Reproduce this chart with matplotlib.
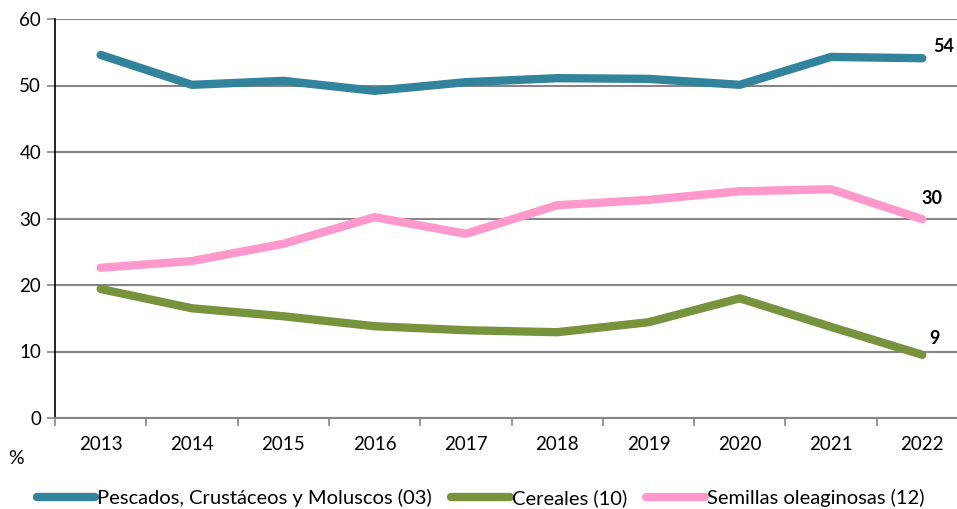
import matplotlib
matplotlib.use('Agg')
import matplotlib.pyplot as plt
import numpy as np

plt.rcParams['font.family'] = ['Lato', 'DejaVu Sans']

years = ['2013', '2014', '2015', '2016', '2017', '2018', '2019', '2020', '2021', '2022']
pescados = [54.6, 50.1, 50.7, 49.2, 50.5, 51.1, 51.0, 50.1, 54.3, 54.1]
cereales = [19.4, 16.5, 15.3, 13.8, 13.2, 12.9, 14.4, 18.0, 13.7, 9.5]
semillas = [22.6, 23.6, 26.2, 30.2, 27.7, 32.0, 32.8, 34.1, 34.4, 29.9]
names = ['Pescados, Crustáceos y Moluscos (03)', 'Cereales (10)', 'Semillas oleaginosas (12)']
colors = ['#31849B', '#77933C', '#FF99CC']
end_labels = ['54', '9', '30']

fig = plt.figure(figsize=(9.57, 5.09), dpi=100)
ax = fig.add_axes([55 / 957, 91 / 509, 913 / 957, 399 / 509])
x = np.arange(len(years))
for vals, name, c in zip([pescados, cereales, semillas], names, colors):
    ax.plot(x, vals, color=c, lw=6, solid_capstyle='round', solid_joinstyle='round', label=name, zorder=3)

# bold end-of-line values
offs = [(15, 8.5), (8.6, 12), (7, 15)]
for vals, lab, (dx, dy) in zip([pescados, cereales, semillas], end_labels, offs):
    ax.annotate(lab, xy=(x[-1], vals[-1]), xytext=(dx, dy), textcoords='offset points',
                fontsize=13, fontweight='bold', ha='center', va='center')

ax.set_xlim(-0.5, len(years) - 0.5)
ax.set_ylim(0, 60)
ax.set_yticks(range(0, 61, 10))
ax.yaxis.grid(True, color='#868686', lw=1.5)
ax.set_axisbelow(True)
ax.set_xticks(x)
ax.set_xticklabels(years)
ax.set_xticks(np.arange(-0.5, len(years), 1), minor=True)
ax.tick_params(axis='x', which='major', length=0, pad=13, labelsize=13.5)
ax.tick_params(axis='x', which='minor', length=6, direction='out', color='#868686', width=1.2)
ax.tick_params(axis='y', length=6, direction='out', color='#868686', width=1.2, labelsize=13.5, pad=4)
for s in ('top', 'right'):
    ax.spines[s].set_visible(False)
ax.spines['left'].set_color('black')
ax.spines['left'].set_linewidth(1.2)
ax.spines['bottom'].set_color('#868686')
ax.spines['bottom'].set_linewidth(1.5)

fig.text(16 / 957, 1 - 458 / 509, '%', fontsize=14, ha='center', va='center')

leg = fig.legend(loc='center left', bbox_to_anchor=(37 / 957, 1 - 498 / 509), ncol=3, frameon=False,
                 fontsize=14.5, handlelength=2.9, handletextpad=0.1, columnspacing=0.95,
                 borderpad=0, borderaxespad=0)
for h in leg.get_lines():
    h.set_linewidth(6)
    h.set_solid_capstyle('round')

fig.savefig('out.png', dpi=100)
